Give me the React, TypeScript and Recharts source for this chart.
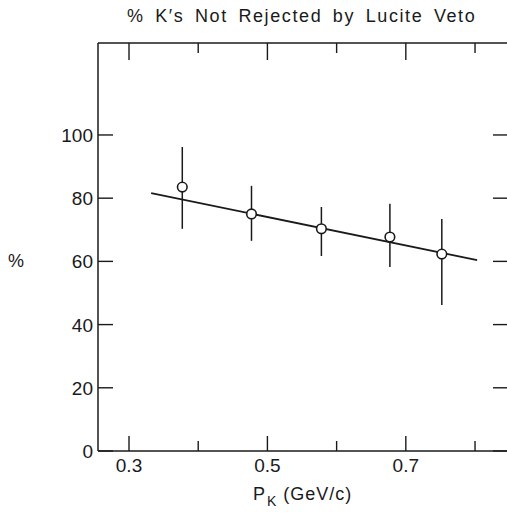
import React from 'react'
import {
  ComposedChart,
  Scatter,
  ErrorBar,
  XAxis,
  YAxis,
} from 'recharts'

// measured points (momentum in GeV/c, percent not rejected)
const momenta = [0.377, 0.477, 0.578, 0.677, 0.752]
const percents = [83.5, 75.0, 70.3, 67.7, 62.3]
const errUp = [12.7, 8.9, 6.9, 10.5, 11.1]
const errDown = [13.2, 8.5, 8.6, 9.5, 16.1]

// straight-line fit drawn through the points
const fitX = [0.332, 0.803]
const fitY = [81.6, 60.4]

const xTicks = [0.3, 0.4, 0.5, 0.6, 0.7, 0.8]
const xLabelled = [0.3, 0.5, 0.7]
const yTicks = [0, 20, 40, 60, 80, 100]

const W = 507
const H = 514
const INK = '#1a1a1a'
const FONT = '"Liberation Sans", Arial, Helvetica, sans-serif'

const points = momenta.map((x, i) => ({
  x,
  y: percents[i],
  err: [errDown[i], errUp[i]],
}))
const fitLine = fitX.map((x, i) => ({ x, y: fitY[i] }))

const isMajor = (v: number) => xLabelled.some((t) => Math.abs(t - v) < 1e-6)

const BottomTick = ({ x, y, payload }: any) => {
  const len = isMajor(payload.value) ? 15 : 10
  return (
    <g>
      <line x1={x} x2={x} y1={y} y2={y - len} stroke={INK} strokeWidth={1.4} />
      {isMajor(payload.value) && (
        <text x={x} y={y + 21} textAnchor="middle" fontSize={19} fill={INK} fontFamily={FONT}>
          {payload.value.toFixed(1)}
        </text>
      )}
    </g>
  )
}

const TopTick = ({ x, y, payload }: any) => {
  const len = isMajor(payload.value) ? 17 : 10
  return <line x1={x} x2={x} y1={y} y2={y + len} stroke={INK} strokeWidth={1.4} />
}

const LeftTick = ({ x, y, payload }: any) => (
  <g>
    <line x1={x} x2={x + 15} y1={y} y2={y} stroke={INK} strokeWidth={1.4} />
    <text x={x - 5} y={y + 7} textAnchor="end" fontSize={19} fill={INK} fontFamily={FONT}>
      {payload.value}
    </text>
  </g>
)

const RightTick = ({ x, y }: any) => (
  <line x1={x} x2={x - 14} y1={y} y2={y} stroke={INK} strokeWidth={1.4} />
)

const OpenCircle = ({ cx, cy }: any) => (
  <circle cx={cx} cy={cy} r={4.8} fill="#fff" stroke={INK} strokeWidth={1.6} />
)

const NoDot = () => <g />

export default function App() {
  return (
    <div style={{ position: 'absolute', left: 0, top: 0, width: W, height: H, overflow: 'hidden', background: '#fff' }}>
      <ComposedChart
        width={W + 1}
        height={H}
        margin={{ top: 42, right: 0, bottom: 62, left: 0 }}
      >
        <XAxis
          xAxisId="bottom"
          dataKey="x"
          type="number"
          domain={[0.2552, 0.8462]}
          ticks={xTicks}
          height={1}
          tickSize={0}
          tickMargin={0}
          tickLine={false}
          tick={<BottomTick />}
          axisLine={{ stroke: INK, strokeWidth: 1.5 }}
          interval={0}
          allowDataOverflow
        />
        <XAxis
          xAxisId="top"
          orientation="top"
          dataKey="x"
          type="number"
          domain={[0.2552, 0.8462]}
          ticks={xTicks}
          height={1}
          tickSize={0}
          tickMargin={0}
          tickLine={false}
          tick={<TopTick />}
          axisLine={{ stroke: INK, strokeWidth: 1.5 }}
          interval={0}
          allowDataOverflow
        />
        <YAxis
          yAxisId="left"
          dataKey="y"
          type="number"
          domain={[0, 129.1]}
          ticks={yTicks}
          width={98}
          tickSize={0}
          tickMargin={0}
          tickLine={false}
          tick={<LeftTick />}
          axisLine={{ stroke: INK, strokeWidth: 1.5 }}
          interval={0}
          allowDataOverflow
        />
        <YAxis
          yAxisId="right"
          orientation="right"
          dataKey="y"
          type="number"
          domain={[0, 129.1]}
          ticks={yTicks}
          width={1}
          tickSize={0}
          tickMargin={0}
          tickLine={false}
          tick={<RightTick />}
          axisLine={false}
          interval={0}
          allowDataOverflow
        />
        <Scatter
          data={fitLine}
          xAxisId="bottom"
          yAxisId="left"
          line={{ stroke: INK, strokeWidth: 1.8 }}
          shape={<NoDot />}
          isAnimationActive={false}
        />
        <Scatter
          data={points}
          xAxisId="bottom"
          yAxisId="left"
          shape={<OpenCircle />}
          isAnimationActive={false}
        >
          <ErrorBar dataKey="err" direction="y" width={0} stroke={INK} strokeWidth={1.5} isAnimationActive={false} />
        </Scatter>
      </ComposedChart>
      <div style={{ position: 'absolute', left: 127, top: 6, fontFamily: FONT, fontSize: 18, color: INK, letterSpacing: 1.6, wordSpacing: 4, whiteSpace: 'nowrap' }}>
        % K&#8242;s Not Rejected by Lucite Veto
      </div>
      <div style={{ position: 'absolute', left: 8, top: 251, fontFamily: FONT, fontSize: 18, color: INK }}>%</div>
      <div style={{ position: 'absolute', left: 253, top: 484, fontFamily: FONT, fontSize: 18, color: INK, letterSpacing: 1, whiteSpace: 'nowrap' }}>
        P<sub style={{ fontSize: 14, verticalAlign: -6, marginLeft: 1 }}>K</sub> (GeV/c)
      </div>
    </div>
  )
}
